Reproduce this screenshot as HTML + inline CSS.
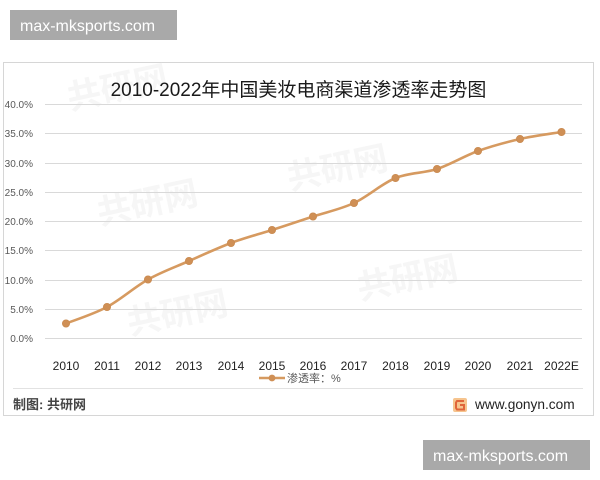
<!DOCTYPE html>
<html>
<head>
<meta charset="utf-8">
<style>
html,body{margin:0;padding:0;background:#fff;}
body{width:600px;height:480px;overflow:hidden;position:relative;font-family:"Liberation Sans","Noto Sans CJK SC",sans-serif;}
svg{position:absolute;left:0;top:0;}
</style>
</head>
<body>
<svg width="600" height="480" viewBox="0 0 600 480" xmlns="http://www.w3.org/2000/svg">
  <rect x="0" y="0" width="600" height="480" fill="#ffffff"/>
  <!-- chart frame -->
  <rect x="3.5" y="62.5" width="590" height="353" fill="#ffffff" stroke="#d6d6d6" stroke-width="1"/>
  <!-- faint watermarks -->
  <g fill="#f6f6f6" font-family="'Noto Sans CJK SC',sans-serif" font-weight="bold" font-size="34">
    <text x="70" y="110" transform="rotate(-12 70 110)">共研网</text>
    <text x="290" y="190" transform="rotate(-12 290 190)">共研网</text>
    <text x="100" y="225" transform="rotate(-12 100 225)">共研网</text>
    <text x="360" y="300" transform="rotate(-12 360 300)">共研网</text>
    <text x="130" y="335" transform="rotate(-12 130 335)">共研网</text>
  </g>
  <!-- title -->
  <text x="298.5" y="96" text-anchor="middle" font-size="19" fill="#1a1a1a" font-family="'Liberation Sans','Noto Sans CJK SC',sans-serif">2010-2022年中国美妆电商渠道渗透率走势图</text>
  <!-- gridlines -->
  <g stroke="#d9d9d9" stroke-width="1">
    <line x1="45" x2="582" y1="104.5" y2="104.5"/>
    <line x1="45" x2="582" y1="133.5" y2="133.5"/>
    <line x1="45" x2="582" y1="163.5" y2="163.5"/>
    <line x1="45" x2="582" y1="192.5" y2="192.5"/>
    <line x1="45" x2="582" y1="221.5" y2="221.5"/>
    <line x1="45" x2="582" y1="250.5" y2="250.5"/>
    <line x1="45" x2="582" y1="280.5" y2="280.5"/>
    <line x1="45" x2="582" y1="309.5" y2="309.5"/>
    <line x1="45" x2="582" y1="338.5" y2="338.5"/>
  </g>
  <!-- y labels -->
  <g font-size="10" fill="#595959" text-anchor="end">
    <text x="33" y="108">40.0%</text>
    <text x="33" y="137">35.0%</text>
    <text x="33" y="167">30.0%</text>
    <text x="33" y="196">25.0%</text>
    <text x="33" y="225">20.0%</text>
    <text x="33" y="254">15.0%</text>
    <text x="33" y="284">10.0%</text>
    <text x="33" y="313">5.0%</text>
    <text x="33" y="342">0.0%</text>
  </g>
  <!-- x labels -->
  <g font-size="12" fill="#222" text-anchor="middle">
    <text x="66" y="370">2010</text>
    <text x="107" y="370">2011</text>
    <text x="148" y="370">2012</text>
    <text x="189" y="370">2013</text>
    <text x="231" y="370">2014</text>
    <text x="272" y="370">2015</text>
    <text x="313" y="370">2016</text>
    <text x="354" y="370">2017</text>
    <text x="395.5" y="370">2018</text>
    <text x="437" y="370">2019</text>
    <text x="478" y="370">2020</text>
    <text x="520" y="370">2021</text>
    <text x="561.5" y="370">2022E</text>
  </g>
  <!-- series line -->
  <path d="M66,323.5 C72.8,320.75 93.3,314.3 107,307 C120.7,299.7 134.3,287.2 148,279.5 C161.7,271.8 175.2,267.1 189,261 C202.8,254.9 217.2,248.2 231,243 C244.8,237.8 258.3,234.4 272,230 C285.7,225.6 299.3,221 313,216.5 C326.7,212 340.25,209.4 354,203 C367.75,196.6 381.7,183.7 395.5,178 C409.3,172.3 423.25,173.5 437,169 C450.75,164.5 464.2,156 478,151 C491.8,146 506.1,142.2 520,139 C533.9,135.8 554.6,133.2 561.5,132" fill="none" stroke="#d69a60" stroke-width="2.6" stroke-linejoin="round" stroke-linecap="round"/>
  <g fill="#cf8f55" stroke="#c98a50" stroke-width="0.8">
    <circle cx="66" cy="323.5" r="3.6"/>
    <circle cx="107" cy="307" r="3.6"/>
    <circle cx="148" cy="279.5" r="3.6"/>
    <circle cx="189" cy="261" r="3.6"/>
    <circle cx="231" cy="243" r="3.6"/>
    <circle cx="272" cy="230" r="3.6"/>
    <circle cx="313" cy="216.5" r="3.6"/>
    <circle cx="354" cy="203" r="3.6"/>
    <circle cx="395.5" cy="178" r="3.6"/>
    <circle cx="437" cy="169" r="3.6"/>
    <circle cx="478" cy="151" r="3.6"/>
    <circle cx="520" cy="139" r="3.6"/>
    <circle cx="561.5" cy="132" r="3.6"/>
  </g>
  <!-- legend -->
  <line x1="259" y1="378" x2="285" y2="378" stroke="#d69a60" stroke-width="2.6"/>
  <circle cx="272" cy="378" r="3.4" fill="#cf8f55"/>
  <text x="287" y="382" font-size="11" fill="#595959" font-family="'Liberation Sans','Noto Sans CJK SC',sans-serif">渗透率：%</text>
  <!-- divider -->
  <line x1="13" y1="388.5" x2="583" y2="388.5" stroke="#e2e2e2" stroke-width="1"/>
  <!-- footer -->
  <text x="13" y="409" font-size="13" font-weight="bold" fill="#444" font-family="'Liberation Sans','Noto Sans CJK SC',sans-serif">制图: 共研网</text>
  <g>
    <rect x="453" y="398" width="14" height="14" rx="2" fill="#f6c48e"/>
    <path d="M464,401 L457,401 L456,402.5 L456,408 L457,409.5 L464,409.5 L464,405 L460,405" fill="none" stroke="#e0643a" stroke-width="2"/>
  </g>
  <text x="475" y="409" font-size="13.7" fill="#222">www.gonyn.com</text>
  <!-- overlay watermark boxes -->
  <rect x="10" y="10" width="167" height="30" fill="#a9a9a9"/>
  <text x="20" y="31" font-size="16" fill="#ffffff">max-mksports.com</text>
  <rect x="423" y="440" width="167" height="30" fill="#a9a9a9"/>
  <text x="433" y="461" font-size="16" fill="#ffffff">max-mksports.com</text>
</svg>
</body>
</html>
